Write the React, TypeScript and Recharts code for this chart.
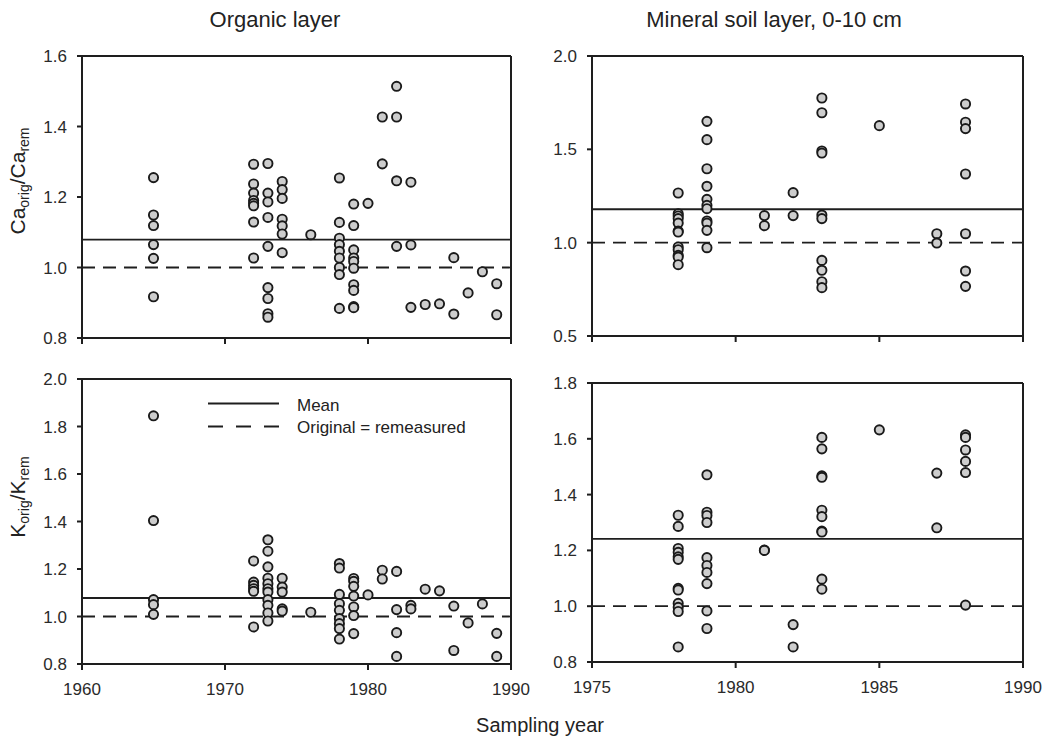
import { ScatterChart, Scatter, XAxis, YAxis, ReferenceLine } from 'recharts'

// values read per sampling year: [year, ratios]
const caOrganic: [number, number[]][] = [
  [1965, [1.255, 1.149, 1.119, 1.065, 1.026, 0.917]],
  [1972, [1.293, 1.237, 1.211, 1.19, 1.182, 1.175, 1.129, 1.027]],
  [1973, [1.295, 1.211, 1.186, 1.142, 1.06, 0.943, 0.912, 0.869, 0.859]],
  [1974, [1.244, 1.221, 1.196, 1.137, 1.118, 1.095, 1.042]],
  [1976, [1.093]],
  [1978, [1.254, 1.128, 1.083, 1.065, 1.046, 1.027, 1.0, 0.98, 0.884]],
  [1979, [1.18, 1.119, 1.05, 1.027, 1.017, 0.998, 0.951, 0.935, 0.889, 0.886]],
  [1980, [1.182]],
  [1981, [1.427, 1.294]],
  [1982, [1.514, 1.427, 1.246, 1.06]],
  [1983, [1.242, 1.064, 0.887]],
  [1984, [0.895]],
  [1985, [0.897]],
  [1986, [1.028, 0.868]],
  [1987, [0.928]],
  [1988, [0.988]],
  [1989, [0.954, 0.866]],
]

const caMineral: [number, number[]][] = [
  [1978, [1.266, 1.155, 1.143, 1.129, 1.105, 1.062, 1.057, 0.977, 0.962, 0.932, 0.923, 0.882]],
  [1979, [1.65, 1.552, 1.396, 1.302, 1.232, 1.2, 1.182, 1.116, 1.105, 1.066, 0.973]],
  [1981, [1.145, 1.091]],
  [1982, [1.268, 1.145]],
  [1983, [1.775, 1.696, 1.491, 1.48, 1.148, 1.129, 0.905, 0.852, 0.791, 0.759]],
  [1985, [1.627]],
  [1987, [1.048, 0.998]],
  [1988, [1.743, 1.645, 1.611, 1.368, 1.048, 0.848, 0.766]],
]

const kOrganic: [number, number[]][] = [
  [1965, [1.845, 1.404, 1.071, 1.05, 1.009]],
  [1972, [1.234, 1.145, 1.131, 1.117, 1.106, 0.956]],
  [1973, [1.323, 1.275, 1.209, 1.161, 1.138, 1.117, 1.103, 1.071, 1.047, 1.015, 0.981]],
  [1974, [1.161, 1.124, 1.103, 1.032, 1.023]],
  [1976, [1.018]],
  [1978, [1.223, 1.204, 1.093, 1.054, 1.026, 0.991, 0.97, 0.949, 0.905]],
  [1979, [1.16, 1.148, 1.127, 1.086, 1.04, 1.004, 0.928]],
  [1980, [1.091]],
  [1981, [1.195, 1.158]],
  [1982, [1.19, 1.029, 0.932, 0.832]],
  [1983, [1.047, 1.032]],
  [1984, [1.115]],
  [1985, [1.108]],
  [1986, [1.044, 0.857]],
  [1987, [0.973]],
  [1988, [1.053]],
  [1989, [0.929, 0.832]],
]

const kMineral: [number, number[]][] = [
  [1978, [1.326, 1.286, 1.207, 1.193, 1.177, 1.168, 1.064, 1.058, 1.01, 0.996, 0.981, 0.854]],
  [1979, [1.471, 1.337, 1.325, 1.3, 1.174, 1.146, 1.121, 1.081, 0.983, 0.92]],
  [1981, [1.201, 1.2]],
  [1982, [0.934, 0.854]],
  [1983, [1.605, 1.564, 1.467, 1.462, 1.344, 1.321, 1.269, 1.266, 1.097, 1.061]],
  [1985, [1.632]],
  [1987, [1.477, 1.281]],
  [1988, [1.614, 1.605, 1.56, 1.519, 1.479, 1.004]],
]

const means = { caOrganic: 1.079, caMineral: 1.179, kOrganic: 1.078, kMineral: 1.241 }

const organicYearTicks = [1960, 1970, 1980, 1990]
const mineralYearTicks = [1975, 1980, 1985, 1990]
const caOrganicTicks = [0.8, 1.0, 1.2, 1.4, 1.6]
const caMineralTicks = [0.5, 1.0, 1.5, 2.0]
const kOrganicTicks = [0.8, 1.0, 1.2, 1.4, 1.6, 1.8, 2.0]
const kMineralTicks = [0.8, 1.0, 1.2, 1.4, 1.6, 1.8]

const FONT = '"Liberation Sans", Arial, Helvetica, sans-serif'
const INK = '#1e1e1e'
const DASH = '13 8'

const flatten = (groups: [number, number[]][]) =>
  groups.flatMap(([year, vals]) => vals.map((ratio) => ({ year, ratio })))

const Dot = (p: any) => (
  <circle cx={p.cx} cy={p.cy} r={4.6} fill="#cdcdcd" stroke="#1a1a1a" strokeWidth={1.9} />
)

type Box = { x: number; y: number; w: number; h: number }

function Panel({
  groups,
  mean,
  xTicks,
  yTicks,
  box,
  xLabels,
}: {
  groups: [number, number[]][]
  mean: number
  xTicks: number[]
  yTicks: number[]
  box: Box
  xLabels: boolean
}) {
  const yw = 70
  const xh = 50
  const right = 26
  const xMin = xTicks[0]
  const xMax = xTicks[xTicks.length - 1]
  const yMin = yTicks[0]
  const yMax = yTicks[yTicks.length - 1]
  const tickStyle = { fill: '#2a2a2a', fontSize: 17, fontFamily: FONT }
  return (
    <div style={{ position: 'absolute', left: box.x - yw, top: box.y - 10 }}>
      <ScatterChart
        width={yw + box.w + right}
        height={10 + box.h + xh}
        margin={{ top: 10, right, bottom: 0, left: 0 }}
        style={{ overflow: 'visible' }}
      >
        <XAxis
          type="number"
          dataKey="year"
          domain={[xMin, xMax]}
          ticks={xTicks}
          interval={0}
          height={xh}
          stroke={INK}
          strokeWidth={2}
          tickSize={6}
          tickMargin={13}
          tick={xLabels ? tickStyle : () => <g />}
          allowDataOverflow
        />
        <YAxis
          type="number"
          dataKey="ratio"
          domain={[yMin, yMax]}
          ticks={yTicks}
          interval={0}
          width={yw}
          stroke={INK}
          strokeWidth={2}
          tickSize={5}
          tickMargin={10}
          tick={tickStyle}
          tickFormatter={(v: number) => v.toFixed(1)}
          allowDataOverflow
        />
        <ReferenceLine y={yMax} stroke={INK} strokeWidth={2} />
        <ReferenceLine x={xMax} stroke={INK} strokeWidth={2} />
        <ReferenceLine y={1} stroke={INK} strokeWidth={1.8} strokeDasharray={DASH} />
        <ReferenceLine y={mean} stroke={INK} strokeWidth={1.8} />
        <Scatter data={flatten(groups)} shape={Dot} isAnimationActive={false} />
      </ScatterChart>
    </div>
  )
}

const text = (extra: React.CSSProperties): React.CSSProperties => ({
  position: 'absolute',
  fontFamily: FONT,
  color: '#222',
  lineHeight: 1,
  whiteSpace: 'nowrap',
  ...extra,
})

function RatioLabel({ el, cx, cy }: { el: string; cx: number; cy: number }) {
  return (
    <div
      style={text({
        left: cx,
        top: cy,
        fontSize: 21,
        transform: 'translate(-50%, -50%) rotate(-90deg)',
      })}
    >
      {el}
      <sub style={{ fontSize: 14, verticalAlign: '-0.3em' }}>orig</sub>/{el}
      <sub style={{ fontSize: 14, verticalAlign: '-0.3em' }}>rem</sub>
    </div>
  )
}

export default function App() {
  return (
    <div
      style={{
        position: 'absolute',
        left: 0,
        top: 0,
        width: 1051,
        height: 738,
        background: '#fff',
        overflow: 'hidden',
      }}
    >
      <div style={text({ left: 275, top: 8.5, fontSize: 22, transform: 'translateX(-50%)' })}>
        Organic layer
      </div>
      <div style={text({ left: 774, top: 8.5, fontSize: 22, transform: 'translateX(-50%)' })}>
        Mineral soil layer, 0-10 cm
      </div>

      <Panel
        groups={caOrganic}
        mean={means.caOrganic}
        xTicks={organicYearTicks}
        yTicks={caOrganicTicks}
        box={{ x: 82, y: 56, w: 429, h: 282 }}
        xLabels={false}
      />
      <Panel
        groups={caMineral}
        mean={means.caMineral}
        xTicks={mineralYearTicks}
        yTicks={caMineralTicks}
        box={{ x: 592, y: 56, w: 431, h: 280 }}
        xLabels={false}
      />
      <Panel
        groups={kOrganic}
        mean={means.kOrganic}
        xTicks={organicYearTicks}
        yTicks={kOrganicTicks}
        box={{ x: 82, y: 379, w: 429, h: 285 }}
        xLabels
      />
      <Panel
        groups={kMineral}
        mean={means.kMineral}
        xTicks={mineralYearTicks}
        yTicks={kMineralTicks}
        box={{ x: 592, y: 383, w: 431, h: 279 }}
        xLabels
      />

      {/* legend of the lower-left panel */}
      <svg style={{ position: 'absolute', left: 206, top: 396 }} width={76} height={40}>
        <line x1={2} x2={73} y1={7.5} y2={7.5} stroke={INK} strokeWidth={1.8} />
        <line x1={2} x2={73} y1={30.5} y2={30.5} stroke={INK} strokeWidth={1.8} strokeDasharray="15 13" />
      </svg>
      <div style={text({ left: 297, top: 397, fontSize: 17 })}>Mean</div>
      <div style={text({ left: 297, top: 419, fontSize: 17 })}>Original = remeasured</div>

      <RatioLabel el="Ca" cx={19} cy={181} />
      <RatioLabel el="K" cx={19} cy={497} />

      <div style={text({ left: 540, top: 715, fontSize: 20, transform: 'translateX(-50%)' })}>
        Sampling year
      </div>
    </div>
  )
}
